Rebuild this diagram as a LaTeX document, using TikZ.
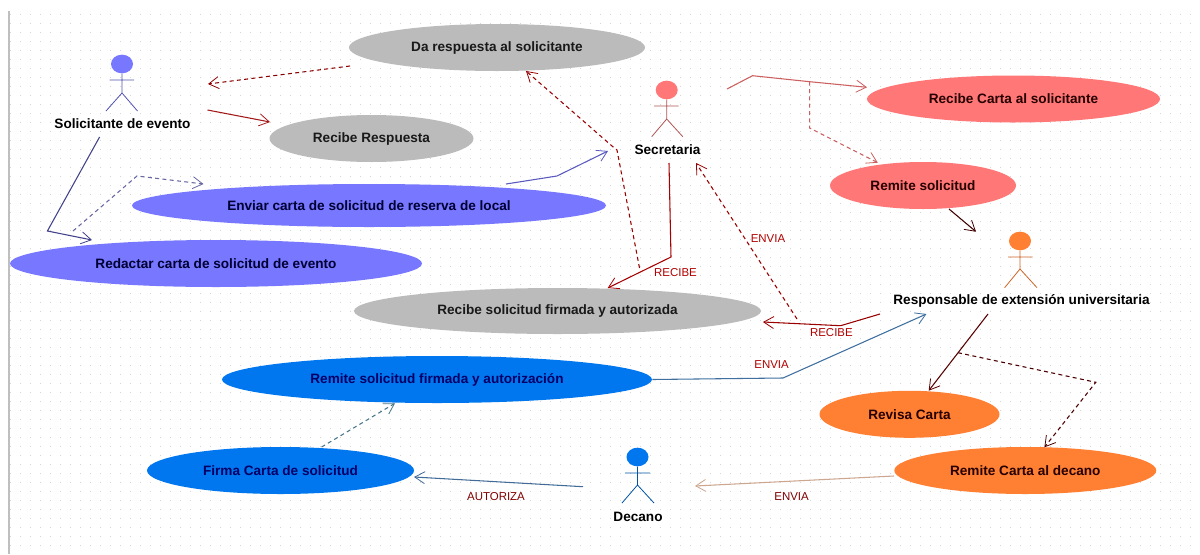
\documentclass[tikz,border=0pt]{standalone}
\usepackage{fontspec}
\setmainfont{Liberation Sans}
\usetikzlibrary{shapes.geometric,arrows.meta}
\definecolor{cGray}{HTML}{BBBBBB}
\definecolor{cViolet}{HTML}{7777FF}
\definecolor{cPink}{HTML}{FF7777}
\definecolor{cOrange}{HTML}{FF7F33}
\definecolor{cBlue}{HTML}{0077EE}
\tikzset{
  usecase/.style={ellipse,inner sep=0pt,draw=none,font=\fontsize{10.2}{12}\selectfont\bfseries},
  actorlabel/.style={inner sep=0pt,text=black,font=\fontsize{10.2}{12}\selectfont\bfseries},
  edgelabel/.style={inner sep=0pt,font=\fontsize{8.6}{10}\selectfont},
  assoc/.style={line width=0.8pt,-{Straight Barb[length=7.5pt,width=9pt,line width=0.6pt]}},
  dep/.style={assoc,dash pattern=on 3pt off 2.5pt},
  limb/.style={line width=0.6pt}
}
\begin{document}
\begin{tikzpicture}[x=0.75pt,y=-0.75pt]
\useasboundingbox (0,0) rectangle (1200,554);
\fill[white] (0,0) rectangle (1200,554);
% dotted canvas
\foreach \r in {0,...,59}{
  \draw[black!16,line width=0.75pt,dash pattern=on 0.9pt off 6.6pt] (10,{14+9*\r}) -- (1200,{14+9*\r});
}
\fill[black!25] (8,11) rectangle (10,554);

% use cases
\node[usecase,fill=cGray,text=black!90,minimum width=296\pgflinewidth*0+222pt,minimum height=35.25pt] (da) at (497,47.5) {Da respuesta al solicitante};
\node[usecase,fill=cGray,text=black!90,minimum width=153pt,minimum height=35.25pt] (resp) at (371.5,138.5) {Recibe Respuesta};
\node[usecase,fill=cViolet,text=blue!20!black,minimum width=355.5pt,minimum height=32.25pt] (enviar) at (369,205.5) {Enviar carta de solicitud de reserva de local};
\node[usecase,fill=cViolet,text=blue!20!black,minimum width=309pt,minimum height=35.25pt] (redactar) at (216,263.5) {Redactar carta de solicitud de evento};
\node[usecase,fill=cGray,text=black!90,minimum width=305.25pt,minimum height=34.5pt] (firmada) at (557.5,311) {Recibe solicitud firmada y autorizada};
\node[usecase,fill=cPink,text=red!15!black,minimum width=219.75pt,minimum height=35.25pt] (carta) at (1013.5,99) {Recibe Carta al solicitante};
\node[usecase,fill=cPink,text=red!15!black,minimum width=139.5pt,minimum height=35.25pt] (remsol) at (923,185.5) {Remite solicitud};
\node[usecase,fill=cBlue,text=blue!40!black,minimum width=322.5pt,minimum height=35.25pt] (remfir) at (437,379.5) {Remite solicitud firmada y autorización};
\node[usecase,fill=cBlue,text=blue!40!black,minimum width=200.25pt,minimum height=35.25pt] (firma) at (280.5,470.5) {Firma Carta de solicitud};
\node[usecase,fill=cOrange,text=red!15!black,minimum width=135pt,minimum height=35.25pt] (revisa) at (909.5,414.3) {Revisa Carta};
\node[usecase,fill=cOrange,text=red!15!black,minimum width=196.5pt,minimum height=35.25pt] (remdec) at (1025.3,470.5) {Remite Carta al decano};

% actors
\node[ellipse,fill=cViolet,inner sep=0pt,minimum width=16.5pt,minimum height=14pt] (solH) at (122,64) {};
\coordinate (solN) at (122,73);
\coordinate (solHip) at (122,93);
\coordinate (solLL) at (106,111);
\coordinate (solLR) at (137.5,111);
\coordinate (solAL) at (109.5,80);
\coordinate (solAR) at (134,80);
\draw[limb,color=cViolet!70!black] (solH) -- (solHip) -- (solLL) (solHip) -- (solLR) (solAL) -- (solAR);
\node[actorlabel] (sol) at (122.5,124) {Solicitante de evento};

\node[ellipse,fill=cPink,inner sep=0pt,minimum width=16.5pt,minimum height=14pt] (secH) at (666.7,90) {};
\coordinate (secHip) at (666.7,119);
\coordinate (secLL) at (651.7,136.7);
\coordinate (secLR) at (682.8,136.7);
\coordinate (secAL) at (654,106);
\coordinate (secAR) at (678.5,106);
\draw[limb,color=cPink!70!black] (secH) -- (secHip) -- (secLL) (secHip) -- (secLR) (secAL) -- (secAR);
\node[actorlabel] (sec) at (667.5,150) {Secretaria};

\node[ellipse,fill=cOrange,inner sep=0pt,minimum width=16.5pt,minimum height=14pt] (resH) at (1020,241) {};
\coordinate (resHip) at (1020,269);
\coordinate (resLL) at (1004.6,287.7);
\coordinate (resLR) at (1037,287.7);
\coordinate (resAL) at (1008,257);
\coordinate (resAR) at (1032.5,257);
\draw[limb,color=cOrange!80!black] (resH) -- (resHip) -- (resLL) (resHip) -- (resLR) (resAL) -- (resAR);
\node[actorlabel] (res) at (1021.5,301) {Responsable de extensión universitaria};

\node[ellipse,fill=cBlue,inner sep=0pt,minimum width=16.5pt,minimum height=14pt] (decH) at (637.5,457) {};
\coordinate (decHip) at (637.5,485);
\coordinate (decLL) at (622,503);
\coordinate (decLR) at (654,503);
\coordinate (decAL) at (625,473);
\coordinate (decAR) at (650,473);
\draw[limb,color=cBlue!70!black] (decH) -- (decHip) -- (decLL) (decHip) -- (decLR) (decAL) -- (decAR);
\node[actorlabel] (dec) at (638,517) {Decano};

% connector ends and bends
\coordinate (daOut) at (350,66);
\coordinate (solIn) at (208,84);
\coordinate (solOut) at (207.5,110);
\coordinate (respIn) at (270,122);
\coordinate (solDown) at (99.6,137);
\coordinate (b1) at (47.4,231);
\coordinate (redIn) at (92,240);
\coordinate (dStart) at (73,231);
\coordinate (b2) at (137,176);
\coordinate (envIn) at (203.5,184);
\coordinate (envOut) at (506,184);
\coordinate (b3) at (557,176);
\coordinate (secIn) at (608,151);
\coordinate (fStart) at (639.5,268);
\coordinate (b4) at (617,150);
\coordinate (b4b) at (612,146);
\coordinate (daIn) at (526,71);
\coordinate (secOut) at (727,89);
\coordinate (b5) at (752.5,75.7);
\coordinate (j1) at (809.6,81.7);
\coordinate (cartaIn) at (867,87.3);
\coordinate (b6) at (809.6,128);
\coordinate (remIn) at (877.8,162.7);
\coordinate (rsOut) at (949,209);
\coordinate (resIn) at (976,231.7);
\coordinate (secDown) at (669,163);
\coordinate (b7) at (671,257);
\coordinate (firIn) at (607.7,288);
\coordinate (eStart) at (797,319);
\coordinate (secIn2) at (696,163);
\coordinate (resOut) at (880,314);
\coordinate (b8) at (840.6,325.7);
\coordinate (firIn2) at (763,322);
\coordinate (b9) at (783,378);
\coordinate (resIn2) at (926.4,314);
\coordinate (resDown) at (988,314);
\coordinate (revIn) at (928.7,390.7);
\coordinate (j2) at (958,352.7);
\coordinate (b10) at (1095.8,382.3);
\coordinate (decIn2) at (1044.4,447.3);
\coordinate (rdOut) at (894,476);
\coordinate (decIn) at (695,486);
\coordinate (decOut) at (583,486.7);
\coordinate (firmaIn) at (414,477);
\coordinate (fOut) at (321.6,447);
\coordinate (rfIn) at (395,403.3);

% connectors
\draw[dep,color=red!55!black] (daOut) -- (solIn);
\draw[assoc,color=red!60!black!90] (solOut) -- (respIn);
\draw[assoc,color=cViolet!55!black] (solDown) -- (b1) -- (redIn);
\draw[dep,color=cViolet!55!black!80] (dStart) -- (b2) -- (envIn);
\draw[assoc,color=cViolet!75!black] (envOut) -- (b3) -- (secIn);
\draw[dep,color=red!60!black] (fStart) -- (b4) -- (b4b) -- (daIn);
\draw[assoc,color=cPink!80!black] (secOut) -- (b5) -- (j1) -- (cartaIn);
\draw[dep,color=cPink!80!black] (j1) -- (b6) -- (remIn);
\draw[assoc,color=red!25!black] (rsOut) -- (resIn);
\draw[assoc,color=red!65!black] (secDown) -- (b7) -- (firIn);
\draw[dep,color=red!60!black] (eStart) -- (secIn2);
\draw[assoc,color=red!60!black] (resOut) -- (b8) -- (firIn2);
\draw[assoc,color=cyan!60!blue!70!black] (remfir.east) -- (b9) -- (resIn2);
\draw[assoc,color=red!35!black] (resDown) -- (revIn);
\draw[dep,color=red!30!black] (j2) -- (b10) -- (decIn2);
\draw[assoc,color=cOrange!60!black!50!white] (rdOut) -- (decIn);
\draw[assoc,color=cyan!60!blue!65!black] (decOut) -- (firmaIn);
\draw[dep,color=cyan!50!black] (fOut) -- (rfIn);

% connector labels
\node[edgelabel,text=red!70!black] (l1) at (675.5,273) {RECIBE};
\node[edgelabel,text=red!70!black] (l2) at (768,239) {ENVIA};
\node[edgelabel,text=red!70!black] (l3) at (831.4,333) {RECIBE};
\node[edgelabel,text=red!70!black] (l4) at (771.6,364.7) {ENVIA};
\node[edgelabel,text=red!50!black] (l5) at (791.6,496.7) {ENVIA};
\node[edgelabel,text=red!50!black] (l6) at (496,497) {AUTORIZA};
\end{tikzpicture}
\end{document}
